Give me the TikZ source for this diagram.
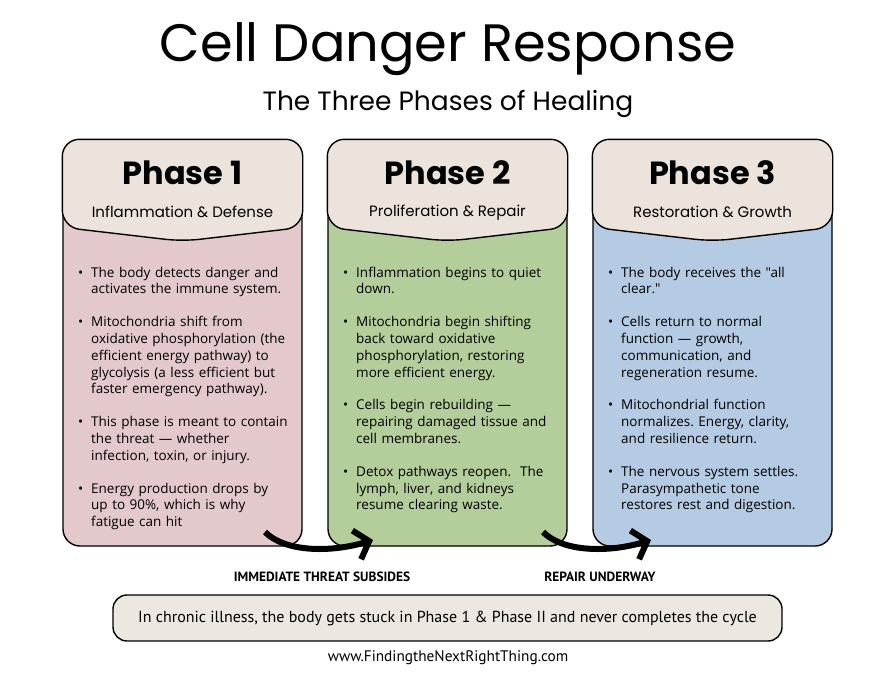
\documentclass[tikz,border=0pt]{standalone}
\usepackage{fontspec}
\setmainfont{Open Sans}[Ligatures=TeXOff]
\newfontfamily\headfont{Poppins}
\newfontfamily\narrowfont{PT Sans}
\usepackage{enumitem}
\usetikzlibrary{arrows.meta, positioning, calc}

\definecolor{headbeige}{HTML}{ECE3DD}
\definecolor{phasepink}{HTML}{E3C9CC}
\definecolor{phasegreen}{HTML}{B3CE9B}
\definecolor{phaseblue}{HTML}{B5CBE3}
\definecolor{notebeige}{HTML}{EDE7E2}

\setlist[itemize]{label=\textbullet, align=left, labelwidth=13pt, labelsep=0pt, leftmargin=13pt,
    itemsep=16pt, parsep=0pt, topsep=0pt, partopsep=0pt}
\frenchspacing

\begin{document}
\begin{tikzpicture}[x=1pt, y=-1pt,
        cardbody/.style={draw, line width=1.4pt, rounded corners=17pt, minimum width=239pt, minimum height=406pt, inner sep=0pt},
        cardhead/.style={draw, line width=1.4pt, fill=headbeige, rounded corners=17pt},
        phasetitle/.style={font=\headfont\bfseries\fontsize{32}{36}\selectfont},
        phasesub/.style={font=\headfont\fontsize{15}{18}\selectfont},
        bullets/.style={anchor=north west, text width=228pt, inner sep=0pt, align=left, font=\fontsize{13.5}{16.8}\selectfont},
        flow/.style={line width=6pt, -{Straight Barb[length=13pt, width=30pt]}},
        flowlabel/.style={font=\narrowfont\bfseries\fontsize{13.4}{15}\selectfont},
        note/.style={draw, line width=1.4pt, fill=notebeige, rounded corners=14pt, minimum width=669pt, minimum height=46pt, font=\narrowfont\fontsize{16}{19}\selectfont}
    ]
    \useasboundingbox[fill=white] (0,0) rectangle (896,672);

    \node[font=\headfont\fontsize{52.6}{58}\selectfont] (title) at (448,49) {Cell Danger Response};
    \node[font=\headfont\fontsize{26.5}{30}\selectfont] (subtitle) at (448,104) {The Three Phases of Healing};

    \node[cardbody, fill=phasepink]  (card1) at (182.5,343) {};
    \node[cardbody, fill=phasegreen] (card2) at (447.5,343) {};
    \node[cardbody, fill=phaseblue]  (card3) at (712.5,343) {};

    \foreach \c in {card1, card2, card3} {
        \draw[cardhead] ($(\c.north west)+(0,88)$) -- (\c.north west) -- (\c.north east)
            -- ($(\c.north east)+(0,88)$) -- ($(\c.north)+(0,102)$) -- cycle;
    }

    \node[phasetitle] (p1title) at ($(card1.north)+(0,33)$) {Phase 1};
    \node[phasesub]   (p1sub)   at ($(card1.north)+(0,73)$) {Inflammation \& Defense};
    \node[phasetitle] (p2title) at ($(card2.north)+(0,33)$) {Phase 2};
    \node[phasesub]   (p2sub)   at ($(card2.north)+(0,73)$) {Proliferation \& Repair};
    \node[phasetitle] (p3title) at ($(card3.north)+(0,33)$) {Phase 3};
    \node[phasesub]   (p3sub)   at ($(card3.north)+(0,73)$) {Restoration \& Growth};

    \node[bullets] (p1list) at (78,260) {
        \begin{itemize}
            \item The body detects danger and\\ activates the immune system.
            \item Mitochondria shift from\\ oxidative phosphorylation (the\\ efficient energy pathway) to\\ glycolysis (a less efficient but\\ faster emergency pathway).
            \item This phase is meant to contain\\ the threat — whether\\ infection, toxin, or injury.
            \item Energy production drops by\\ up to 90\%, which is why\\ fatigue can hit
        \end{itemize}};
    \node[bullets] (p2list) at (343,260) {
        \begin{itemize}
            \item Inflammation begins to quiet\\ down.
            \item Mitochondria begin shifting\\ back toward oxidative\\ phosphorylation, restoring\\ more efficient energy.
            \item Cells begin rebuilding —\\ repairing damaged tissue and\\ cell membranes.
            \item Detox pathways reopen.\ \ The\\ lymph, liver, and kidneys\\ resume clearing waste.
        \end{itemize}};
    \node[bullets] (p3list) at (608,260) {
        \begin{itemize}
            \item The body receives the "all\\ clear."
            \item Cells return to normal\\ function — growth,\\ communication, and\\ regeneration resume.
            \item Mitochondrial function\\ normalizes. Energy, clarity,\\ and resilience return.
            \item The nervous system settles.\\ Parasympathetic tone\\ restores rest and digestion.
        \end{itemize}};

    % brush arrows between the cards
    \coordinate (arr1s) at (265,532);
    \coordinate (arr1e) at (373,540);
    \coordinate (arr2s) at (543,532);
    \coordinate (arr2e) at (651,540);
    \draw[flow] (arr1s) .. controls (285,552) and (330,553) .. (arr1e);
    \draw[flow] (arr2s) .. controls (563,552) and (608,553) .. (arr2e);

    \node[flowlabel] (lab1) at (322,577) {IMMEDIATE THREAT SUBSIDES};
    \node[flowlabel] (lab2) at (600,577) {REPAIR UNDERWAY};

    \node[note] (chronic) at (447.5,618) {In chronic illness, the body gets stuck in Phase 1 \& Phase II and never completes the cycle};
    \node[font=\narrowfont\fontsize{15.3}{17}\selectfont] (url) at (448,658) {www.FindingtheNextRightThing.com};

\end{tikzpicture}
\end{document}
